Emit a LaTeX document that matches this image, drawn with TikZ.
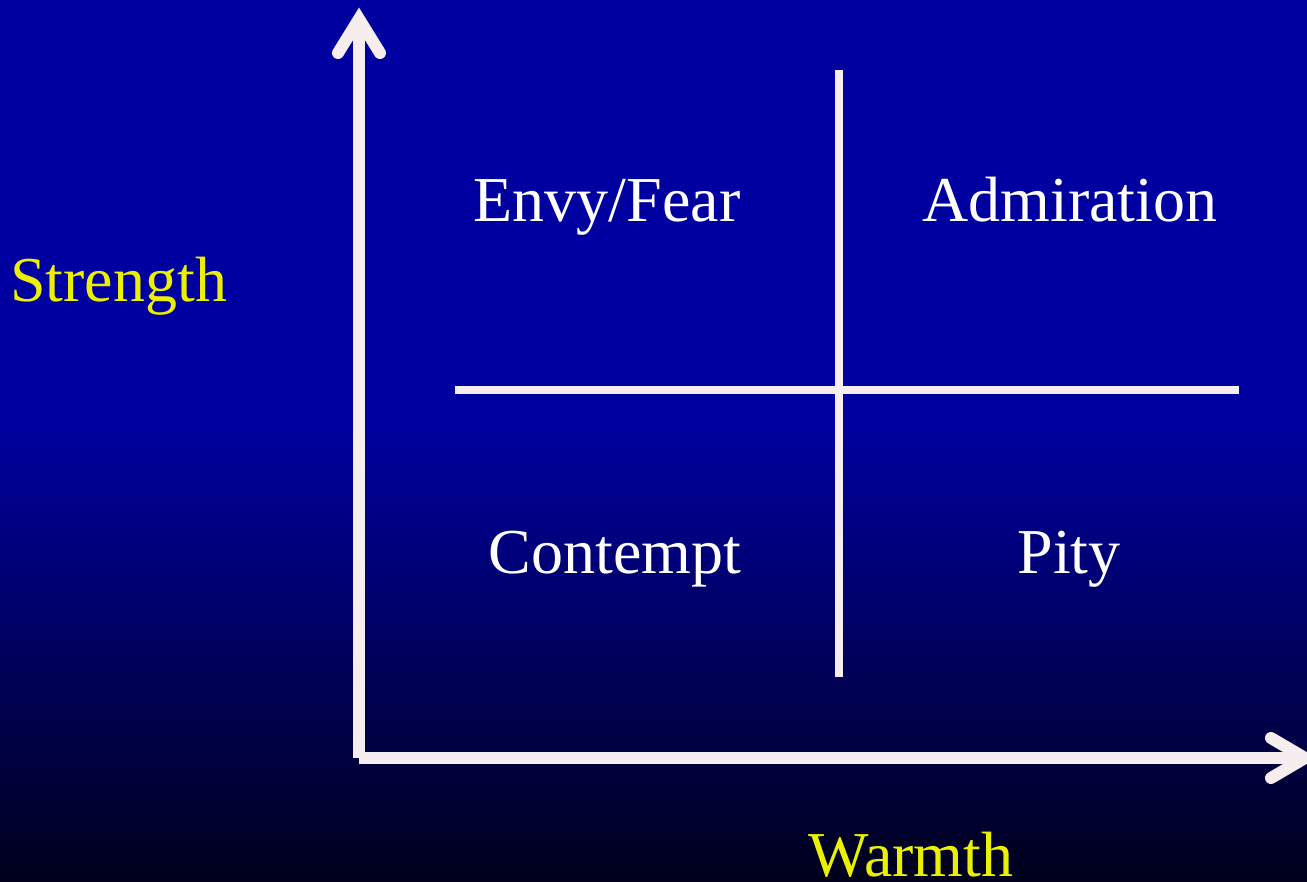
\documentclass[tikz,border=0pt]{standalone}
\usepackage{fontspec}
\setmainfont{Liberation Serif}
\definecolor{bgtop}{RGB}{0,0,160}
\definecolor{bgbot}{RGB}{0,0,28}
\definecolor{linecol}{RGB}{245,237,238}
\definecolor{labyellow}{RGB}{235,240,0}
\begin{document}
\begin{tikzpicture}[x=1pt,y=-1pt,
  quad/.style={text=white,font=\fontsize{64}{76}\selectfont,anchor=base,inner sep=0pt},
  axislabel/.style={text=labyellow,font=\fontsize{64}{76}\selectfont,inner sep=0pt},
  axisline/.style={draw=linecol,line width=12pt,line cap=butt},
  axishead/.style={draw=linecol,line width=12pt,line cap=round,line join=miter},
  divider/.style={draw=linecol,line width=8pt}]
\useasboundingbox (0,0) rectangle (1307,882);
% background
\fill[bgtop] (0,0) rectangle (1307,420);
\shade[top color=bgtop,bottom color=bgbot] (0,420) rectangle (1307,882);
% coordinates
\coordinate (origin) at (359,758);
\coordinate (ytip) at (359,19);
\coordinate (xtip) at (1305,758);
\coordinate (yl) at (338,53);
\coordinate (yr) at (380,53);
\coordinate (xu) at (1271,738);
\coordinate (xd) at (1271,778);
\coordinate (vtop) at (839,70);
\coordinate (vbot) at (839,677);
\coordinate (hl) at (455,390);
\coordinate (hr) at (1239,390);
% quadrant dividers
\draw[divider] (vtop) -- (vbot);
\draw[divider] (hl) -- (hr);
% axes
\draw[axisline] (origin) -- (ytip);
\draw[axisline] (origin) -- (xtip);
\draw[axishead] (yl) -- (ytip) -- (yr);
\draw[axishead] (xu) -- (xtip) -- (xd);
% labels
\node[quad] (envy) at (607,222) {Envy/Fear};
\node[quad] (admir) at (1070,222) {Admiration};
\node[quad] (cont) at (615,573) {Contempt};
\node[quad] (pity) at (1069,573) {Pity};
\node[axislabel,anchor=base west] (strength) at (10,302) {Strength};
\node[axislabel,anchor=base] (warmth) at (911,876) {Warmth};
\end{tikzpicture}
\end{document}
